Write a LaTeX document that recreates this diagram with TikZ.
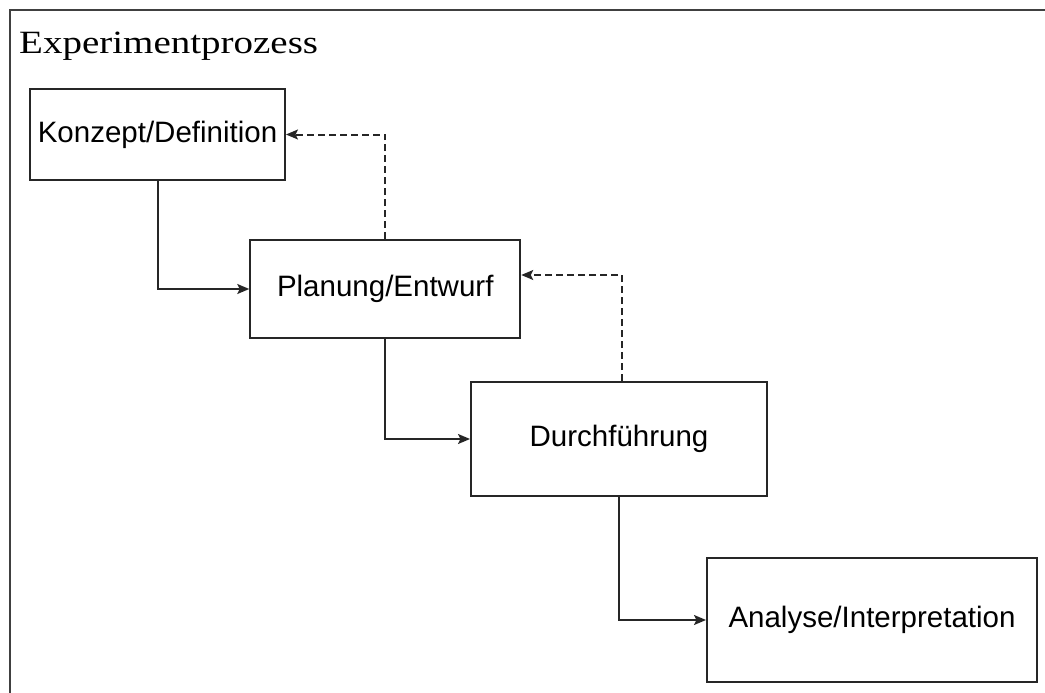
\documentclass[tikz,border=0pt]{standalone}
\usepackage{graphicx}
\usepackage{fontspec}
\setmainfont{Liberation Serif}
\newfontfamily\boxfont{Liberation Sans}
\usetikzlibrary{arrows.meta}

\begin{document}
\begin{tikzpicture}[x=1pt,y=-1pt,
  stagebox/.style={draw=black!85, line width=2pt, fill=white, inner sep=0pt,
    font=\boxfont\fontsize{29.5}{34}\selectfont},
  flow/.style={draw=black!85, line width=2pt,
    -{Stealth[length=12pt,width=10pt,inset=2.5pt]}},
  feedback/.style={flow, dash pattern=on 7pt off 4pt},
  frameline/.style={draw=black!75, line width=2.5pt},
]
\useasboundingbox (0,0) rectangle (1045,693);

% outer frame (top and left edge)
\coordinate (frameBL) at (10,693);
\coordinate (frameTL) at (10,10);
\coordinate (frameTR) at (1045,10);
\draw[frameline] (frameBL) -- (frameTL) -- (frameTR);

% title
\node[anchor=base west, inner sep=0pt, font=\fontsize{32.5}{38}\selectfont]
  (title) at (19,53.3) {\scalebox{1.2}[1]{Experimentprozess}};

% process stages
\node[stagebox, minimum width=255pt, minimum height=90pt]  (konzept) at (157.5,134.5) {Konzept/Definition};
\node[stagebox, minimum width=270pt, minimum height=98pt]  (planung) at (385.25,289) {Planung/Entwurf};
\node[stagebox, minimum width=296pt, minimum height=114pt] (durch)   at (619,439) {Durchführung};
\node[stagebox, minimum width=330pt, minimum height=124pt] (analyse) at (872,620) {Analyse/Interpretation};

% forward flow
\draw[flow] (konzept.south) |- (planung.west);
\draw[flow] (planung.south) |- (durch.west);
\draw[flow] (durch.south) |- (analyse.west);

% feedback loops
\draw[feedback] (planung.north) |- (konzept.east);
\draw[feedback] ([xshift=3pt]durch.north) |- ([yshift=14pt]planung.east);
\end{tikzpicture}
\end{document}
